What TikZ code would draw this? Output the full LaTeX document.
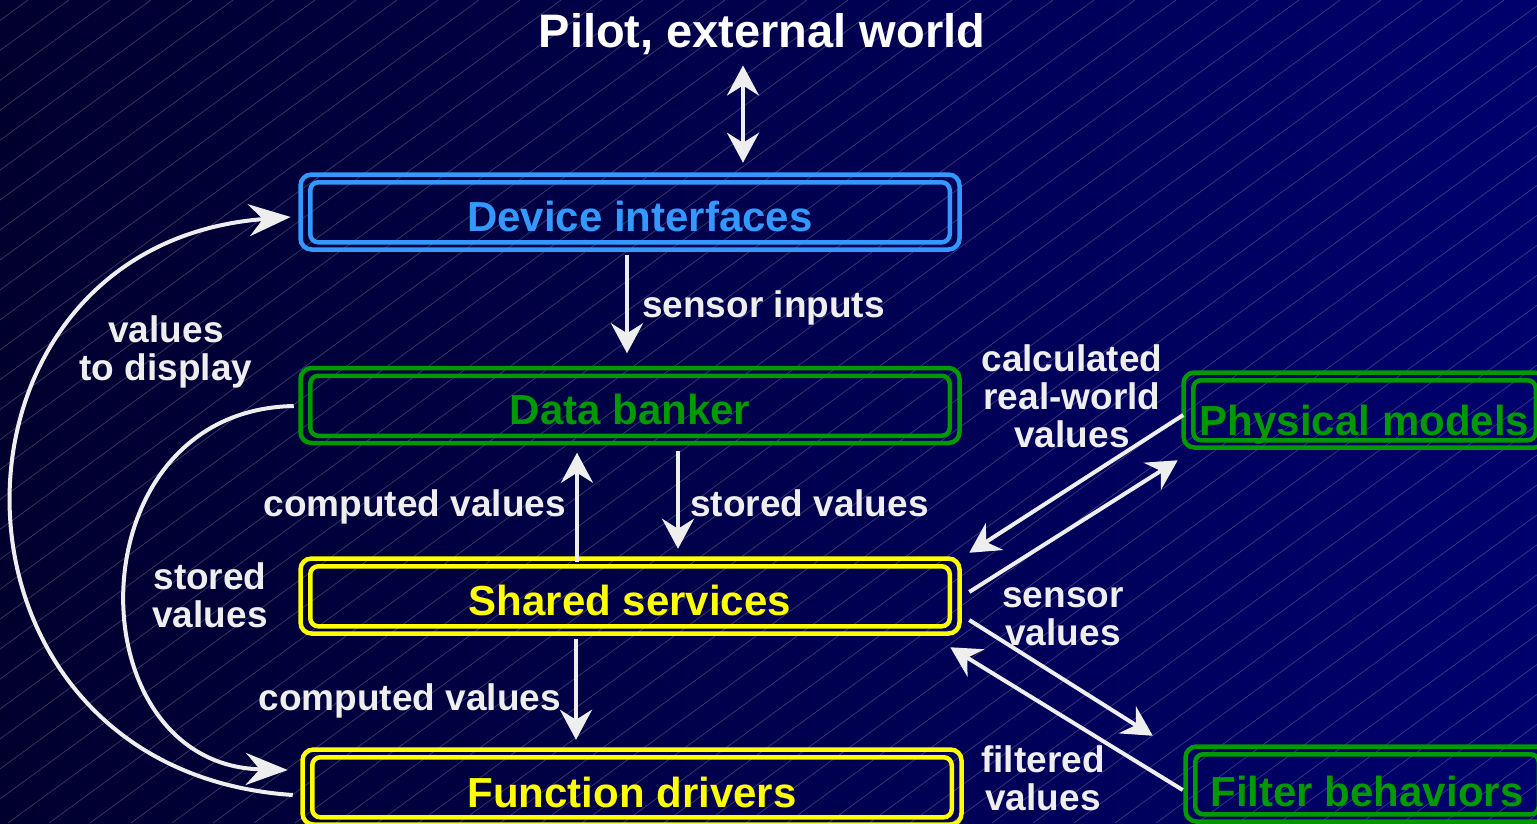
\documentclass[tikz,border=0pt]{standalone}
\usepackage{fontspec}
\setmainfont{Liberation Sans}
\usetikzlibrary{arrows.meta,calc}
\definecolor{bgL}{HTML}{00002E}
\definecolor{bgR}{HTML}{00006E}
\definecolor{devblue}{HTML}{3399FF}
\definecolor{dgreen}{HTML}{009900}
\definecolor{syellow}{HTML}{FFFF00}
\definecolor{lbl}{HTML}{EEEEEE}
\begin{document}
\begin{tikzpicture}[x=1pt,y=-1pt,
  boxnode/.style={draw=#1, line width=4.5pt, rounded corners=11pt, minimum width=659pt,
    minimum height=75pt, inner sep=0pt, text=#1,
    font=\fontsize{42}{42}\selectfont\bfseries, text height=38pt, text depth=0pt},
  innerbox/.style={draw=#1, line width=4.5pt, rounded corners=8pt},
  lab/.style={text=lbl, font=\fontsize{37}{38}\selectfont\bfseries, inner sep=0pt, align=center},
  tipS/.tip={Stealth[length=30pt,width=32pt,inset=10pt]},
  tipL/.tip={Stealth[length=42pt,width=32pt,inset=14pt]},
  arr/.style={draw=lbl, line width=4pt, -tipS},
  dblarr/.style={draw=lbl, line width=4pt, tipS-tipS},
  carr/.style={draw=lbl, line width=4pt, -tipL},
  hatch/.style={draw=white, draw opacity=0.22, line width=0.7pt}
]
\useasboundingbox (0,0) rectangle (1537,823);
\shade[left color=bgL, right color=bgR] (0,0) rectangle (1537,823);
\begin{scope}
  \clip (0,0) rectangle (1537,823);
  \foreach \i in {-29,...,38} { \draw[hatch] (\i*41+8, 823) -- ++(1127,-823); }
\end{scope}

% boxes
\node[boxnode=devblue] (dev) at (630,212) {\hspace*{20pt}Device interfaces};
\node[boxnode=dgreen] (db) at (630,405.5) {Data banker};
\node[boxnode=syellow] (ss) at (630,596) {Shared services};
\node[boxnode=syellow, text height=40pt] (fd) at (632,787) {Function drivers};
\node[boxnode=dgreen, minimum width=362pt, text height=50pt] (pm) at (1364.5,410) {Physical models};
\node[boxnode=dgreen, minimum width=363pt, text height=44pt] (fb) at (1367,784) {Filter behaviors};

\foreach \b/\c in {dev/devblue, db/dgreen, ss/syellow, fd/syellow, pm/dgreen, fb/dgreen}
  \draw[innerbox=\c] ($(\b.north west)+(12,10)$) rectangle ($(\b.south east)+(-12,-9.5)$);

% title
\node[text=white, font=\fontsize{47}{47}\selectfont\bfseries, inner sep=0pt, anchor=base] (pilot) at (762,47) {Pilot, external world};

% x positions of vertical connectors
\coordinate (xa) at (743,0);
\coordinate (xb) at (627,0);
\coordinate (xc) at (577,0);
\coordinate (xd) at (678,0);
\coordinate (xe) at (576,0);

\draw[dblarr, shorten <=11pt, shorten >=9.5pt] (pilot.south -| xa) -- (dev.north -| xa);
\draw[arr, shorten <=3.5pt, shorten >=12.5pt] (dev.south -| xb) -- (db.north -| xb);
\draw[arr, shorten <=-5.5pt, shorten >=7.5pt] (ss.north -| xc) -- (db.south -| xc);
\draw[arr, shorten <=5.5pt, shorten >=7.5pt] (db.south -| xd) -- (ss.north -| xd);
\draw[arr, shorten <=3.5pt, shorten >=7.5pt] (ss.south -| xe) -- (fd.north -| xe);

% diagonal connectors
\draw[arr] ($(pm.west)+(2,5)$) -- ($(ss.north east)+(7.5,-3.5)$);
\draw[arr] ($(ss.east)+(7.5,-4)$) -- ($(pm.south west)+(-3.5,10.5)$);
\draw[arr] ($(ss.east)+(7.5,24)$) -- ($(fb.north west)+(-30.5,-8.5)$);
\draw[arr] ($(fb.west)+(-0.5,6)$) -- ($(ss.south east)+(-11.5,11.5)$);

% curved connectors
\draw[carr] ($(fd.west)+(-7.5,8)$) .. controls (-80,770) and (-80,245) .. ($(dev.west)+(-7.5,5)$);
\draw[carr] ($(db.west)+(-4.5,0.5)$) .. controls (72,410) and (72,765) .. ($(fd.west)+(-12.5,-17)$);

% labels
\node[lab] (l1) at (166,352) {values\\to display};
\node[lab, anchor=base west] (l2) at (642,317) {sensor inputs};
\node[lab, anchor=base east] (l3) at (566,516) {computed values};
\node[lab, anchor=base west] (l4) at (690,516) {stored values};
\node[lab] (l5) at (210,595) {stored\\values};
\node[lab, anchor=base east] (l6) at (561,710) {computed values};
\node[lab] (l7) at (1072,396.5) {calculated\\real-world\\values};
\node[lab] (l8) at (1063,617) {sensor\\values};
\node[lab] (l9) at (1043,778) {filtered\\values};
\end{tikzpicture}
\end{document}
